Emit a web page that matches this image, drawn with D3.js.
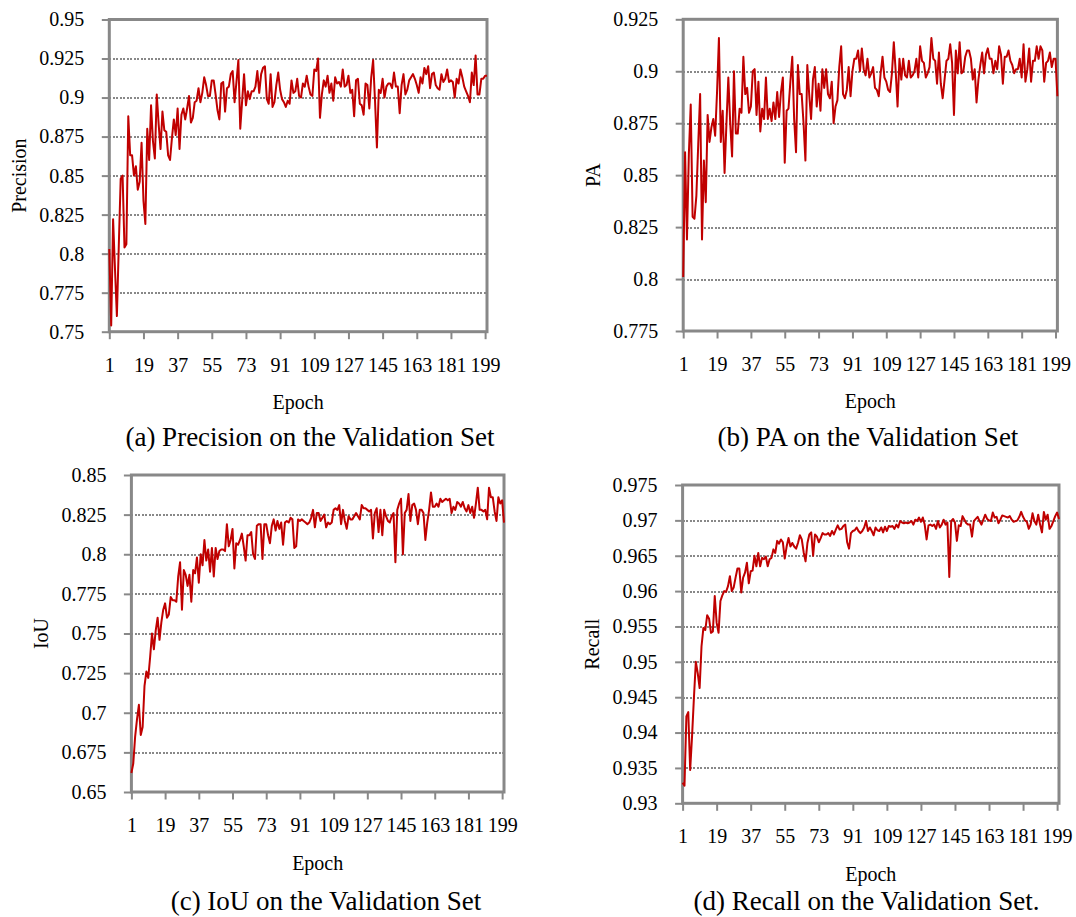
<!DOCTYPE html>
<head>
  <meta charset="utf-8">
  <script src="https://d3js.org/d3.v7.min.js"></script>
  <style>
    body { margin:0; background:#fff; }
    text { font-family: "Liberation Serif", "Times New Roman", serif; fill:#000; }
  </style>
</head>
<body>
<script>

  // epochs 1..200 and the labelled ticks
  var epochs = d3.range(1, 201);
  var xTickLabels = [1, 19, 37, 55, 73, 91, 109, 127, 145, 163, 181, 199];

  // y tick labels of each panel
  var yTicksPrecision = [0.75, 0.775, 0.8, 0.825, 0.85, 0.875, 0.9, 0.925, 0.95];
  var yTicksPA = [0.775, 0.8, 0.825, 0.85, 0.875, 0.9, 0.925];
  var yTicksIoU = [0.65, 0.675, 0.7, 0.725, 0.75, 0.775, 0.8, 0.825, 0.85];
  var yTicksRecall = [0.93, 0.935, 0.94, 0.945, 0.95, 0.955, 0.96, 0.965, 0.97, 0.975];

  // validation metrics, one value per epoch
  var precision = [
    0.803, 0.754, 0.822, 0.790, 0.760, 0.805, 0.848, 0.850, 0.804, 0.806,
    0.888, 0.863, 0.863, 0.850, 0.856, 0.841, 0.846, 0.871, 0.834, 0.819,
    0.880, 0.860, 0.895, 0.872, 0.861, 0.902, 0.883, 0.867, 0.891, 0.879,
    0.878, 0.863, 0.860, 0.874, 0.886, 0.876, 0.893, 0.867, 0.889, 0.893,
    0.886, 0.893, 0.901, 0.884, 0.887, 0.897, 0.898, 0.906, 0.897, 0.903,
    0.913, 0.908, 0.901, 0.901, 0.911, 0.911, 0.902, 0.892, 0.886, 0.909,
    0.910, 0.891, 0.906, 0.907, 0.915, 0.917, 0.897, 0.910, 0.924, 0.880,
    0.898, 0.915, 0.895, 0.904, 0.899, 0.904, 0.904, 0.907, 0.917, 0.903,
    0.915, 0.919, 0.920, 0.899, 0.896, 0.915, 0.894, 0.897, 0.908, 0.916,
    0.905, 0.899, 0.897, 0.894, 0.898, 0.896, 0.911, 0.903, 0.904, 0.912,
    0.901, 0.900, 0.909, 0.907, 0.914, 0.907, 0.902, 0.901, 0.918, 0.917,
    0.925, 0.887, 0.902, 0.911, 0.907, 0.914, 0.903, 0.909, 0.898, 0.913,
    0.909, 0.910, 0.907, 0.918, 0.907, 0.908, 0.914, 0.903, 0.905, 0.888,
    0.911, 0.912, 0.896, 0.895, 0.889, 0.909, 0.908, 0.893, 0.913, 0.924,
    0.898, 0.868, 0.905, 0.903, 0.912, 0.900, 0.907, 0.909, 0.909, 0.906,
    0.916, 0.907, 0.907, 0.890, 0.908, 0.915, 0.902, 0.905, 0.911, 0.913,
    0.915, 0.912, 0.908, 0.903, 0.913, 0.909, 0.919, 0.915, 0.920, 0.906,
    0.915, 0.916, 0.908, 0.906, 0.905, 0.915, 0.910, 0.912, 0.918, 0.910,
    0.911, 0.910, 0.900, 0.912, 0.909, 0.918, 0.913, 0.907, 0.904, 0.901,
    0.897, 0.916, 0.908, 0.927, 0.902, 0.902, 0.912, 0.912, 0.914, 0.914
  ];

  var pa = [
    0.801, 0.861, 0.819, 0.860, 0.884, 0.830, 0.829, 0.840, 0.865, 0.889,
    0.819, 0.857, 0.837, 0.879, 0.866, 0.873, 0.877, 0.869, 0.890, 0.916,
    0.866, 0.881, 0.851, 0.875, 0.897, 0.875, 0.859, 0.900, 0.870, 0.870,
    0.882, 0.880, 0.907, 0.889, 0.892, 0.880, 0.883, 0.900, 0.901, 0.879,
    0.895, 0.871, 0.882, 0.877, 0.897, 0.877, 0.882, 0.876, 0.885, 0.877,
    0.890, 0.878, 0.890, 0.897, 0.856, 0.881, 0.882, 0.895, 0.907, 0.877,
    0.861, 0.903, 0.889, 0.889, 0.875, 0.857, 0.903, 0.889, 0.877, 0.896,
    0.902, 0.883, 0.894, 0.881, 0.901, 0.892, 0.901, 0.889, 0.887, 0.895,
    0.875, 0.883, 0.886, 0.902, 0.912, 0.889, 0.887, 0.891, 0.902, 0.888,
    0.900, 0.906, 0.906, 0.910, 0.900, 0.911, 0.901, 0.898, 0.906, 0.897,
    0.899, 0.902, 0.892, 0.891, 0.888, 0.899, 0.907, 0.897, 0.895, 0.891,
    0.890, 0.899, 0.914, 0.900, 0.883, 0.906, 0.896, 0.906, 0.898, 0.897,
    0.905, 0.897, 0.898, 0.900, 0.906, 0.897, 0.912, 0.905, 0.904, 0.897,
    0.899, 0.902, 0.916, 0.906, 0.905, 0.894, 0.909, 0.894, 0.887, 0.896,
    0.905, 0.906, 0.913, 0.904, 0.879, 0.910, 0.899, 0.914, 0.899, 0.900,
    0.907, 0.910, 0.910, 0.906, 0.896, 0.901, 0.885, 0.896, 0.903, 0.909,
    0.899, 0.908, 0.911, 0.906, 0.906, 0.899, 0.905, 0.901, 0.912, 0.908,
    0.894, 0.907, 0.907, 0.910, 0.905, 0.903, 0.899, 0.901, 0.901, 0.906,
    0.897, 0.913, 0.895, 0.901, 0.911, 0.895, 0.905, 0.905, 0.912, 0.906,
    0.912, 0.910, 0.895, 0.904, 0.905, 0.909, 0.902, 0.906, 0.906, 0.888
  ];

  var iou = [
    0.662, 0.668, 0.685, 0.696, 0.705, 0.686, 0.691, 0.717, 0.726, 0.722,
    0.735, 0.750, 0.740, 0.752, 0.760, 0.746, 0.757, 0.765, 0.769, 0.760,
    0.762, 0.773, 0.771, 0.771, 0.770, 0.786, 0.795, 0.765, 0.790, 0.787,
    0.780, 0.787, 0.770, 0.790, 0.788, 0.798, 0.782, 0.800, 0.793, 0.809,
    0.796, 0.803, 0.789, 0.804, 0.786, 0.804, 0.797, 0.802, 0.803, 0.803,
    0.802, 0.819, 0.805, 0.809, 0.816, 0.791, 0.807, 0.806, 0.809, 0.813,
    0.805, 0.796, 0.812, 0.812, 0.814, 0.800, 0.797, 0.818, 0.819, 0.819,
    0.797, 0.819, 0.819, 0.812, 0.807, 0.818, 0.822, 0.815, 0.821, 0.816,
    0.820, 0.806, 0.820, 0.821, 0.820, 0.823, 0.822, 0.804, 0.805, 0.822,
    0.821, 0.822, 0.821, 0.820, 0.819, 0.820, 0.823, 0.828, 0.817, 0.826,
    0.826, 0.821, 0.823, 0.825, 0.817, 0.820, 0.819, 0.820, 0.828, 0.829,
    0.828, 0.831, 0.819, 0.828, 0.821, 0.816, 0.824, 0.822, 0.822, 0.824,
    0.826, 0.824, 0.822, 0.831, 0.829, 0.829, 0.828, 0.827, 0.828, 0.810,
    0.826, 0.829, 0.814, 0.828, 0.812, 0.828, 0.824, 0.821, 0.820, 0.824,
    0.826, 0.795, 0.828, 0.832, 0.835, 0.800, 0.826, 0.828, 0.838, 0.821,
    0.831, 0.832, 0.828, 0.819, 0.828, 0.828, 0.826, 0.809, 0.820, 0.828,
    0.839, 0.830, 0.830, 0.832, 0.830, 0.835, 0.833, 0.834, 0.835, 0.834,
    0.835, 0.826, 0.830, 0.828, 0.833, 0.832, 0.830, 0.833, 0.829, 0.827,
    0.831, 0.826, 0.830, 0.823, 0.832, 0.842, 0.828, 0.828, 0.827, 0.828,
    0.822, 0.842, 0.836, 0.836, 0.827, 0.821, 0.836, 0.832, 0.834, 0.820
  ];

  var recall = [
    0.9329, 0.9325, 0.9423, 0.9429, 0.9347, 0.9395, 0.9450, 0.9500, 0.9484, 0.9463,
    0.9522, 0.9548, 0.9545, 0.9566, 0.9561, 0.9541, 0.9543, 0.9593, 0.9555, 0.9541,
    0.9586, 0.9594, 0.9600, 0.9599, 0.9607, 0.9621, 0.9600, 0.9605, 0.9619, 0.9632,
    0.9632, 0.9598, 0.9619, 0.9626, 0.9640, 0.9611, 0.9628, 0.9629, 0.9650, 0.9635,
    0.9654, 0.9635, 0.9647, 0.9645, 0.9649, 0.9635, 0.9645, 0.9647, 0.9659, 0.9654,
    0.9671, 0.9667, 0.9673, 0.9669, 0.9646, 0.9663, 0.9675, 0.9663, 0.9668, 0.9663,
    0.9660, 0.9668, 0.9679, 0.9673, 0.9655, 0.9642, 0.9668, 0.9680, 0.9683, 0.9650,
    0.9680, 0.9677, 0.9669, 0.9675, 0.9682, 0.9680, 0.9680, 0.9682, 0.9678, 0.9685,
    0.9680, 0.9687, 0.9693, 0.9687, 0.9688, 0.9692, 0.9694, 0.9669, 0.9660, 0.9682,
    0.9685, 0.9686, 0.9690, 0.9685, 0.9682, 0.9685, 0.9690, 0.9699, 0.9685, 0.9690,
    0.9685, 0.9679, 0.9690, 0.9686, 0.9685, 0.9690, 0.9683, 0.9691, 0.9685, 0.9692,
    0.9691, 0.9692, 0.9688, 0.9694, 0.9690, 0.9699, 0.9697, 0.9696, 0.9697, 0.9696,
    0.9697, 0.9699, 0.9694, 0.9701, 0.9699, 0.9704, 0.9698, 0.9704, 0.9694, 0.9673,
    0.9693, 0.9694, 0.9692, 0.9694, 0.9688, 0.9699, 0.9690, 0.9694, 0.9701, 0.9694,
    0.9697, 0.9620, 0.9699, 0.9702, 0.9697, 0.9671, 0.9693, 0.9692, 0.9706, 0.9701,
    0.9696, 0.9694, 0.9694, 0.9677, 0.9699, 0.9702, 0.9705, 0.9699, 0.9694, 0.9701,
    0.9708, 0.9702, 0.9700, 0.9699, 0.9711, 0.9704, 0.9705, 0.9696, 0.9701, 0.9707,
    0.9706, 0.9705, 0.9704, 0.9706, 0.9701, 0.9698, 0.9699, 0.9700, 0.9705, 0.9712,
    0.9705, 0.9700, 0.9698, 0.9688, 0.9694, 0.9710, 0.9699, 0.9694, 0.9708, 0.9694,
    0.9683, 0.9712, 0.9701, 0.9708, 0.9688, 0.9692, 0.9699, 0.9706, 0.9711, 0.9702
  ];

  // panel layout (frame edges in page pixels)
  var panels = [
    {values: precision, yTicks: yTicksPrecision, title: "Precision",
     caption: "(a) Precision on the Validation Set",
     left: 109.3, right: 487, top: 19.5, bottom: 331.7, capX: 310, capY: 446},
    {values: pa, yTicks: yTicksPA, title: "PA",
     caption: "(b) PA on the Validation Set",
     left: 683.2, right: 1057.4, top: 19.3, bottom: 331, capX: 868, capY: 446},
    {values: iou, yTicks: yTicksIoU, title: "IoU",
     caption: "(c) IoU on the Validation Set",
     left: 131.4, right: 504, top: 475, bottom: 792, capX: 326, capY: 910},
    {values: recall, yTicks: yTicksRecall, title: "Recall",
     caption: "(d) Recall on the Validation Set.",
     left: 682.6, right: 1059, top: 485, bottom: 803.3, capX: 866.5, capY: 910}
  ];

  var grey = "#888888";
  var red = "#c00000";
  var serif = "'Liberation Serif', 'Times New Roman', serif";
  var fmt = function(d) { return String(+d.toFixed(3)); };

  var svg = d3.select("body").append("svg")
    .attr("width", 1076)
    .attr("height", 917);

  svg.append("rect")
    .attr("width", 1076)
    .attr("height", 917)
    .attr("fill", "#fff");

  panels.forEach(function(p) {

    var w = p.right - p.left,
        h = p.bottom - p.top;

    var x = d3.scaleLinear()
      .domain([1, 200])
      .range([0, w]);

    var y = d3.scaleLinear()
      .domain(d3.extent(p.yTicks))
      .range([h, 0]);

    var g = svg.append("g")
      .attr("transform", "translate(" + p.left + "," + p.top + ")");

    // dotted gridlines (inner ticks only)
    var inner = p.yTicks.slice(1, -1);
    g.append("g")
      .attr("class", "grid")
      .call(d3.axisLeft(y).tickValues(inner).tickSize(-w).tickFormat(""))
      .call(function(s) {
        s.select(".domain").remove();
        s.selectAll("line")
          .attr("stroke", grey)
          .attr("stroke-width", 2)
          .attr("stroke-dasharray", "2,1.5")
          .attr("shape-rendering", "crispEdges");
      });

    // y axis ticks + labels
    g.append("g")
      .call(d3.axisLeft(y).tickValues(p.yTicks).tickSize(7.5).tickPadding(17.5).tickFormat(fmt))
      .attr("font-family", serif)
      .attr("font-size", 20)
      .call(function(s) {
        s.select(".domain").remove();
        s.selectAll("line").attr("stroke", grey).attr("stroke-width", 2);
        s.selectAll("text").attr("fill", "#000");
      });

    // x axis ticks + labels
    g.append("g")
      .attr("transform", "translate(0," + h + ")")
      .call(d3.axisBottom(x).tickValues(xTickLabels).tickSize(7.5).tickPadding(18.5).tickFormat(d3.format("d")))
      .attr("font-family", serif)
      .attr("font-size", 20)
      .call(function(s) {
        s.select(".domain").remove();
        s.selectAll("line").attr("stroke", grey).attr("stroke-width", 2);
        s.selectAll("text").attr("fill", "#000");
      });

    // plot frame
    g.append("rect")
      .attr("width", w)
      .attr("height", h)
      .attr("fill", "none")
      .attr("stroke", grey)
      .attr("stroke-width", 3);

    // metric line
    var line = d3.line()
      .x(function(d, i) { return x(epochs[i]); })
      .y(function(d) { return y(d); });

    g.append("path")
      .datum(p.values)
      .attr("d", line)
      .attr("fill", "none")
      .attr("stroke", red)
      .attr("stroke-width", 2)
      .attr("stroke-linejoin", "round");

    // axis titles
    g.append("text")
      .attr("x", w / 2)
      .attr("y", h + 77.5)
      .attr("text-anchor", "middle")
      .style("font-size", "20px")
      .text("Epoch");

    g.append("text")
      .attr("transform", "translate(-83.7," + (h / 2) + ") rotate(-90)")
      .attr("text-anchor", "middle")
      .style("font-size", "20px")
      .text(p.title);

    // caption
    svg.append("text")
      .attr("x", p.capX)
      .attr("y", p.capY)
      .attr("text-anchor", "middle")
      .style("font-size", "27px")
      .text(p.caption);
  });

</script>
</body>
